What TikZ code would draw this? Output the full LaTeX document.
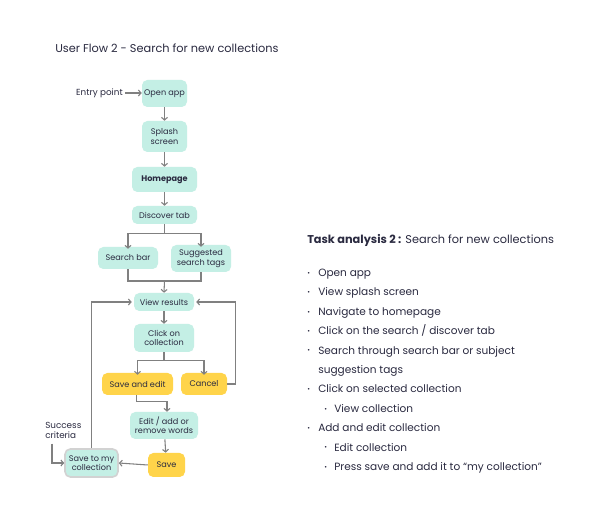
\documentclass[tikz,border=0pt]{standalone}
\usepackage{fontspec}
\setmainfont{Poppins}
\usepackage{xcolor}
\usetikzlibrary{arrows.meta,positioning,calc}

\definecolor{mint}{RGB}{196,239,229}
\definecolor{sun}{RGB}{255,212,74}
\definecolor{ink}{RGB}{42,42,64}
\definecolor{wire}{RGB}{128,128,128}
\definecolor{frame}{RGB}{210,210,210}

\newcommand{\taskdot}{\raisebox{0.9pt}{\fontsize{5}{5}\selectfont\textbullet}}

\begin{document}
\begin{tikzpicture}[x=0.75pt, y=-0.75pt,
    every node/.style={text=ink},
    screen/.style={rectangle, rounded corners=4pt, fill=mint, inner sep=0pt, align=center, font=\fontsize{6.1}{7}\selectfont},
    action/.style={screen, fill=sun},
    arrow/.style={->, >={Straight Barb[length=2pt,width=4.5pt]}, draw=wire, line width=0.8pt},
    link/.style={draw=wire, line width=0.8pt},
    note/.style={inner sep=0pt, align=left, font=\fontsize{6.6}{7.4}\selectfont},
    item/.style={anchor=base west, inner sep=0pt, font=\fontsize{7.9}{9}\selectfont}
]
    \useasboundingbox (0,0) rectangle (600,530);
    \fill[white] (0,0) rectangle (600,530);

    \node[anchor=base west, inner sep=0pt, font=\fontsize{8.5}{10}\selectfont] (title) at (55,53) {User Flow 2 - Search for new collections};

    % flow
    \node[screen, minimum width=33.75pt, minimum height=20.25pt] (open) at (164.5,93.5) {Open app};
    \node[note, anchor=east] (entry) at (123,93) {Entry point};
    \node[screen, minimum width=33.75pt, minimum height=23.25pt] (splash) at (164.5,136.5) {Splash\\screen};
    \node[screen, minimum width=48.75pt, minimum height=18.75pt, font=\fontsize{6.1}{7}\selectfont\bfseries] (home) at (164.5,179.5) {Homepage};
    \node[screen, minimum width=48.75pt, minimum height=13.5pt] (disc) at (164.5,215) {Discover tab};
    \node[screen, minimum width=45pt, minimum height=16.5pt] (sbar) at (128,258) {Search bar};
    \node[screen, minimum width=45pt, minimum height=20.25pt] (tags) at (201,258.5) {Suggested\\search tags};
    \node[screen, minimum width=45pt, minimum height=13.5pt] (view) at (164,302) {View results};
    \node[screen, minimum width=45pt, minimum height=21pt] (click) at (164,338) {Click on\\collection};
    \node[action, minimum width=53.25pt, minimum height=16.5pt] (saveedit) at (137.5,384) {Save and edit};
    \node[action, minimum width=34.5pt, minimum height=16.5pt] (cancel) at (204,384) {Cancel};
    \node[screen, minimum width=51pt, minimum height=20.25pt] (edit) at (164,425.5) {Edit / add or\\remove words};
    \node[action, minimum width=27.75pt, minimum height=18pt] (save) at (166.5,465) {Save};
    \node[screen, minimum width=39.75pt, minimum height=21pt, draw=frame, line width=1.2pt] (mycoll) at (91.5,463) {Save to my\\collection};
    \node[note, anchor=north west] (success) at (45,422) {Success\\criteria};

    \draw[arrow] ([xshift=1.5pt]entry.east) -- (entry.east -| open.west);
    \draw[arrow] (open) -- (splash);
    \draw[arrow] (splash) -- (home);
    \draw[arrow] (home) -- (disc);
    \draw[arrow] (disc.south) -- ++(0,9) -| ([yshift=-1.5pt]sbar.north);
    \draw[arrow] (disc.south) -- ++(0,9) -| ([yshift=-1.5pt]tags.north);
    \coordinate (merge) at (164.5,281);
    \draw[link] (sbar.south) |- (merge);
    \draw[link] (tags.south) |- (merge);
    \draw[arrow] (merge) -- (view.north);
    \draw[arrow] (view) -- (click);
    \draw[arrow] (click.south) -- ++(0,8) -| ([yshift=-1.5pt]saveedit.north);
    \draw[arrow] (click.south) -- ++(0,8) -| ([yshift=-1.5pt]cancel.north);
    \draw[arrow] ([xshift=-1pt]saveedit.south) -- ++(0,6) -| ([xshift=2.25pt]edit.north);
    \draw[arrow] (cancel.east) -- ++(8,0) |- ([xshift=1.5pt]view.east);
    \draw[arrow] (mycoll.north) |- ([xshift=-1.5pt]view.west);
    \draw[arrow] (edit) -- (save);
    \draw[arrow] (save.west) -- (mycoll.east);
    \draw[arrow] ([xshift=5.25pt, yshift=-3.75pt]success.south west) |- (mycoll.west);

    % task analysis
    \node[anchor=base west, inner sep=0pt, font=\fontsize{8.5}{10}\selectfont] (task) at (307,244) {\textbf{Task analysis 2 :} Search for new collections};
    \node[item] (t1) at (307,276.5) {\makebox[8.25pt][l]{\taskdot}Open app};
    \node[item] (t2) at (307,295.9) {\makebox[8.25pt][l]{\taskdot}View splash screen};
    \node[item] (t3) at (307,315.3) {\makebox[8.25pt][l]{\taskdot}Navigate to homepage};
    \node[item] (t4) at (307,334.7) {\makebox[8.25pt][l]{\taskdot}Click on the search / discover tab};
    \node[item] (t5) at (307,354.1) {\makebox[8.25pt][l]{\taskdot}Search through search bar or subject};
    \node[item] (t5b) at (318,373.5) {suggestion tags};
    \node[item] (t6) at (307,392.9) {\makebox[8.25pt][l]{\taskdot}Click on selected collection};
    \node[item] (t6a) at (324,412.3) {\makebox[7.5pt][l]{\taskdot}View collection};
    \node[item] (t7) at (307,431.7) {\makebox[8.25pt][l]{\taskdot}Add and edit collection};
    \node[item] (t7a) at (324,451.1) {\makebox[7.5pt][l]{\taskdot}Edit collection};
    \node[item] (t7b) at (324,470.5) {\makebox[7.5pt][l]{\taskdot}Press save and add it to “my collection”};
\end{tikzpicture}
\end{document}
